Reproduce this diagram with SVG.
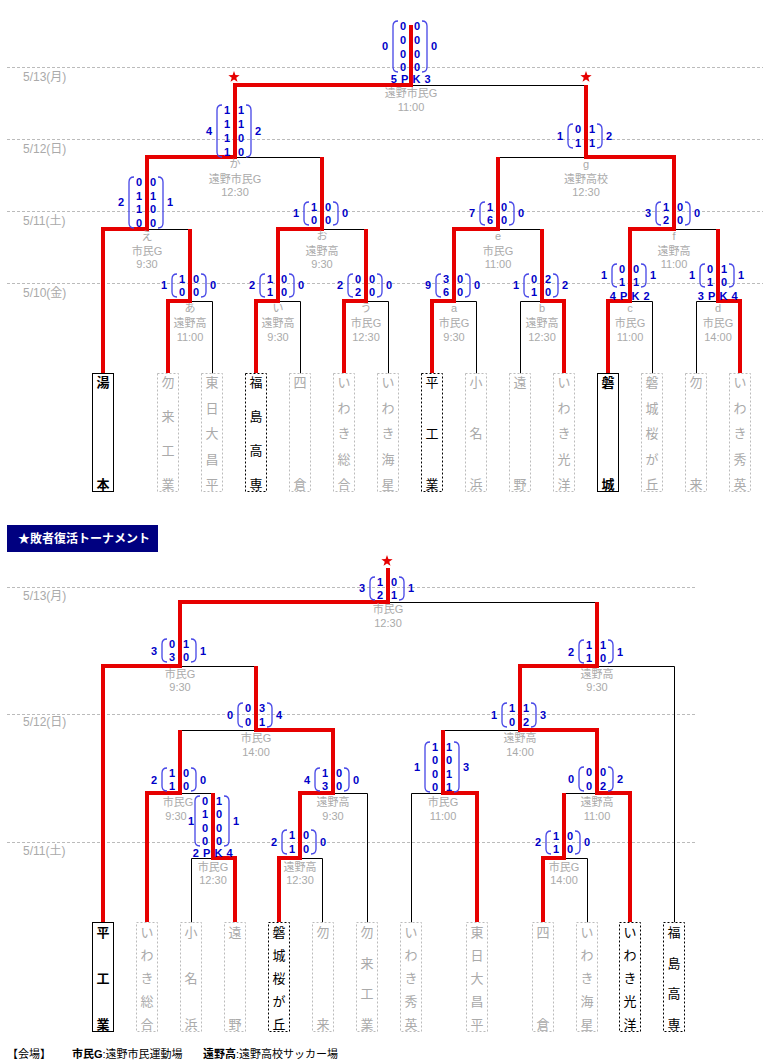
<svg xmlns="http://www.w3.org/2000/svg" xmlns:xlink="http://www.w3.org/1999/xlink" width="763" height="1061" viewBox="0 0 763 1061">
<style>
.dl{stroke:#bbb;stroke-width:1;stroke-dasharray:3 2}
.dt{font-family:"Liberation Sans","Noto Sans CJK JP",sans-serif;font-size:12px;fill:#aaa}
.bl{stroke:#000;stroke-width:1;fill:none}
.rd{stroke:#e60000;stroke-width:4;fill:none;stroke-linejoin:miter}
.sc{font-family:"Liberation Sans",sans-serif;font-weight:bold;font-size:11px;fill:#0000c8;text-anchor:middle}
.pk{letter-spacing:0.6px}
.pr{stroke:#4646e6;stroke-width:1.3;fill:none}
.lb{font-family:"Liberation Sans","Noto Sans CJK JP",sans-serif;font-size:11px;fill:#aaa;text-anchor:middle}
.tn{font-family:"Noto Sans CJK JP",sans-serif;font-size:13px;text-anchor:middle}
.win rect{fill:#fff;stroke:#000;stroke-width:1}
.win text{fill:#000;font-weight:bold}
.dot rect{fill:#fff;stroke:#000;stroke-width:1;stroke-dasharray:2 2}
.dot text{fill:#000}
.lose rect{fill:#fff;stroke:#bbb;stroke-width:1;stroke-dasharray:2 2}
.lose text{fill:#aaa}
.star{fill:#e60000}
</style>
<defs>
<path id="star" transform="scale(0.85)" d="M0,-7 L1.65,-2.27 L6.66,-2.16 L2.66,0.87 L4.11,5.66 L0,2.8 L-4.11,5.66 L-2.66,0.87 L-6.66,-2.16 L-1.65,-2.27 Z"/>
</defs>
<rect width="763" height="1061" fill="#fff"/>

<g id="date-lines">
<line class="dl" x1="7" y1="67.5" x2="763" y2="67.5"/>
<line class="dl" x1="7" y1="139.5" x2="763" y2="139.5"/>
<line class="dl" x1="7" y1="211.5" x2="763" y2="211.5"/>
<line class="dl" x1="7" y1="283.5" x2="763" y2="283.5"/>
<line class="dl" x1="7" y1="587.5" x2="695" y2="587.5"/>
<line class="dl" x1="7" y1="714.5" x2="695" y2="714.5"/>
<line class="dl" x1="7" y1="842.5" x2="695" y2="842.5"/>
<text class="dt" x="23" y="81">5/13(月)</text>
<text class="dt" x="23" y="153">5/12(日)</text>
<text class="dt" x="23" y="225">5/11(土)</text>
<text class="dt" x="23" y="297">5/10(金)</text>
<text class="dt" x="23" y="600">5/13(月)</text>
<text class="dt" x="23" y="726">5/12(日)</text>
<text class="dt" x="23" y="855">5/11(土)</text>
</g>

<g id="connectors">
<g transform="translate(0.5,0.5)">
<path class="bl" d="M212,373 V301 H190 M300,373 V301 H278 M388,373 V301 H366 M476,373 V301 H454 M520,373 V301 H542 M652,373 V301 H630 M696,373 V301 H718 M147,229 H190 M322,229 H366 M498,229 H542 M674,229 H718 M235,157 H322 M498,157 H586 M411,85 H586"/>
<path class="bl" d="M388,602 H597 M180,666 H256 M597,666 H674 V922 M180,730 H256 M443,730 H520 M180,793 H213 M333,793 H367 V922 M411,922 V793 H443 M564,793 H597 M191,922 V858 H213 M300,858 H322 V922 M564,858 H587 V922"/>
</g>
<path class="rd" d="M103,373 V229 H147 V157 H235 V85 H411 V25"/>
<path class="rd" d="M168,373 V301 H190 V229"/>
<path class="rd" d="M256,373 V301 H278 V229 H322 V157"/>
<path class="rd" d="M344,373 V301 H366 V229"/>
<path class="rd" d="M432,373 V301 H454 V229 H498 V157"/>
<path class="rd" d="M564,373 V301 H542 V229"/>
<path class="rd" d="M608,373 V301 H630 V229 H674 V157 H586 V85"/>
<path class="rd" d="M740,373 V301 H718 V229"/>
<path class="rd" d="M103,922 V666 H180 V602 H388 V568"/>
<path class="rd" d="M147,922 V793 H180 V730"/>
<path class="rd" d="M235,922 V858 H213 V793"/>
<path class="rd" d="M279,922 V858 H300 V793 H333 V730 H256 V666"/>
<path class="rd" d="M477,922 V793 H443 V730"/>
<path class="rd" d="M543,922 V858 H564 V793"/>
<path class="rd" d="M630,922 V793 H597 V730 H520 V666 H597 V602"/>
</g>

<g id="stars">
<use xlink:href="#star" href="#star" class="star" x="234" y="77"/>
<use xlink:href="#star" href="#star" class="star" x="586" y="77"/>
<use xlink:href="#star" href="#star" class="star" x="387" y="561"/>
</g>

<!-- top matches -->
<g id="m-final" transform="translate(411,0)">
<text class="sc" x="-26" y="50">0</text><text class="sc" x="23" y="50">0</text>
<path class="pr" d="M-13,21 Q-18,21 -18,26 V67 Q-18,72 -13,72"/><path class="pr" d="M11,21 Q16,21 16,26 V67 Q16,72 11,72"/>
<text class="sc"><tspan x="-8" y="30">0</tspan><tspan x="-8" y="44">0</tspan><tspan x="-8" y="57.5">0</tspan><tspan x="-8" y="71">0</tspan><tspan x="6" y="30">0</tspan><tspan x="6" y="44">0</tspan><tspan x="6" y="57.5">0</tspan><tspan x="6" y="71">0</tspan></text>
<text class="sc pk" x="0" y="83">5 P K 3</text>
<text class="lb" x="0" y="97">遠野市民G</text><text class="lb" x="0" y="111">11:00</text>
</g>
<g id="m-ka" transform="translate(235,0)">
<text class="sc" x="-26" y="135">4</text><text class="sc" x="23" y="135">2</text>
<path class="pr" d="M-13,105 Q-18,105 -18,110 V152 Q-18,157 -13,157"/><path class="pr" d="M11,105 Q16,105 16,110 V152 Q16,157 11,157"/>
<text class="sc"><tspan x="-8" y="114">1</tspan><tspan x="-8" y="128">1</tspan><tspan x="-8" y="142">1</tspan><tspan x="-8" y="156">1</tspan><tspan x="6" y="114">1</tspan><tspan x="6" y="128">1</tspan><tspan x="6" y="142">0</tspan><tspan x="6" y="156">0</tspan></text>
<text class="lb" x="0" y="168">か</text><text class="lb" x="0" y="183">遠野市民G</text><text class="lb" x="0" y="196">12:30</text>
</g>
<g id="m-g" transform="translate(586,0)">
<text class="sc" x="-26" y="140">1</text><text class="sc" x="23" y="140">2</text>
<path class="pr" d="M-13,124 Q-18,124 -18,129 V143 Q-18,148 -13,148"/><path class="pr" d="M11,124 Q16,124 16,129 V143 Q16,148 11,148"/>
<text class="sc"><tspan x="-8" y="133">0</tspan><tspan x="-8" y="147">1</tspan><tspan x="6" y="133">1</tspan><tspan x="6" y="147">1</tspan></text>
<text class="lb" x="0" y="168">g</text><text class="lb" x="0" y="183">遠野高校</text><text class="lb" x="0" y="196">12:30</text>
</g>
<g id="m-e-jp" transform="translate(147,0)">
<text class="sc" x="-26" y="206">2</text><text class="sc" x="23" y="206">1</text>
<path class="pr" d="M-13,177 Q-18,177 -18,182 V223 Q-18,228 -13,228"/><path class="pr" d="M11,177 Q16,177 16,182 V223 Q16,228 11,228"/>
<text class="sc"><tspan x="-8" y="186">0</tspan><tspan x="-8" y="200">1</tspan><tspan x="-8" y="213">1</tspan><tspan x="-8" y="227">0</tspan><tspan x="6" y="186">0</tspan><tspan x="6" y="200">1</tspan><tspan x="6" y="213">0</tspan><tspan x="6" y="227">0</tspan></text>
<text class="lb" x="0" y="240">え</text><text class="lb" x="0" y="255">市民G</text><text class="lb" x="0" y="268">9:30</text>
</g>
<g id="m-o" transform="translate(322,0)">
<text class="sc" x="-26" y="217">1</text><text class="sc" x="23" y="217">0</text>
<path class="pr" d="M-13,202 Q-18,202 -18,207 V220 Q-18,225 -13,225"/><path class="pr" d="M11,202 Q16,202 16,207 V220 Q16,225 11,225"/>
<text class="sc"><tspan x="-8" y="211">1</tspan><tspan x="-8" y="224">0</tspan><tspan x="6" y="211">0</tspan><tspan x="6" y="224">0</tspan></text>
<text class="lb" x="0" y="240">お</text><text class="lb" x="0" y="255">遠野高</text><text class="lb" x="0" y="268">9:30</text>
</g>
<g id="m-e" transform="translate(498,0)">
<text class="sc" x="-26" y="217">7</text><text class="sc" x="23" y="217">0</text>
<path class="pr" d="M-13,202 Q-18,202 -18,207 V220 Q-18,225 -13,225"/><path class="pr" d="M11,202 Q16,202 16,207 V220 Q16,225 11,225"/>
<text class="sc"><tspan x="-8" y="211">1</tspan><tspan x="-8" y="224">6</tspan><tspan x="6" y="211">0</tspan><tspan x="6" y="224">0</tspan></text>
<text class="lb" x="0" y="240">e</text><text class="lb" x="0" y="255">市民G</text><text class="lb" x="0" y="268">11:00</text>
</g>
<g id="m-f" transform="translate(674,0)">
<text class="sc" x="-26" y="217">3</text><text class="sc" x="23" y="217">0</text>
<path class="pr" d="M-13,202 Q-18,202 -18,207 V220 Q-18,225 -13,225"/><path class="pr" d="M11,202 Q16,202 16,207 V220 Q16,225 11,225"/>
<text class="sc"><tspan x="-8" y="211">1</tspan><tspan x="-8" y="224">2</tspan><tspan x="6" y="211">0</tspan><tspan x="6" y="224">0</tspan></text>
<text class="lb" x="0" y="240">f</text><text class="lb" x="0" y="255">遠野高</text><text class="lb" x="0" y="268">11:00</text>
</g>
<g id="m-a-jp" transform="translate(190,0)">
<text class="sc" x="-26" y="289">1</text><text class="sc" x="23" y="289">0</text>
<path class="pr" d="M-13,274 Q-18,274 -18,279 V292 Q-18,297 -13,297"/><path class="pr" d="M11,274 Q16,274 16,279 V292 Q16,297 11,297"/>
<text class="sc"><tspan x="-8" y="283">1</tspan><tspan x="-8" y="296">0</tspan><tspan x="6" y="283">0</tspan><tspan x="6" y="296">0</tspan></text>
<text class="lb" x="0" y="312">あ</text><text class="lb" x="0" y="327">遠野高</text><text class="lb" x="0" y="341">11:00</text>
</g>
<g id="m-i" transform="translate(278,0)">
<text class="sc" x="-26" y="289">2</text><text class="sc" x="23" y="289">0</text>
<path class="pr" d="M-13,274 Q-18,274 -18,279 V292 Q-18,297 -13,297"/><path class="pr" d="M11,274 Q16,274 16,279 V292 Q16,297 11,297"/>
<text class="sc"><tspan x="-8" y="283">1</tspan><tspan x="-8" y="296">1</tspan><tspan x="6" y="283">0</tspan><tspan x="6" y="296">0</tspan></text>
<text class="lb" x="0" y="312">い</text><text class="lb" x="0" y="327">遠野高</text><text class="lb" x="0" y="341">9:30</text>
</g>
<g id="m-u" transform="translate(366,0)">
<text class="sc" x="-26" y="289">2</text><text class="sc" x="23" y="289">0</text>
<path class="pr" d="M-13,274 Q-18,274 -18,279 V292 Q-18,297 -13,297"/><path class="pr" d="M11,274 Q16,274 16,279 V292 Q16,297 11,297"/>
<text class="sc"><tspan x="-8" y="283">0</tspan><tspan x="-8" y="296">2</tspan><tspan x="6" y="283">0</tspan><tspan x="6" y="296">0</tspan></text>
<text class="lb" x="0" y="312">う</text><text class="lb" x="0" y="327">市民G</text><text class="lb" x="0" y="341">12:30</text>
</g>
<g id="m-a" transform="translate(454,0)">
<text class="sc" x="-26" y="289">9</text><text class="sc" x="23" y="289">0</text>
<path class="pr" d="M-13,274 Q-18,274 -18,279 V292 Q-18,297 -13,297"/><path class="pr" d="M11,274 Q16,274 16,279 V292 Q16,297 11,297"/>
<text class="sc"><tspan x="-8" y="283">3</tspan><tspan x="-8" y="296">6</tspan><tspan x="6" y="283">0</tspan><tspan x="6" y="296">0</tspan></text>
<text class="lb" x="0" y="312">a</text><text class="lb" x="0" y="327">市民G</text><text class="lb" x="0" y="341">9:30</text>
</g>
<g id="m-b" transform="translate(542,0)">
<text class="sc" x="-26" y="289">1</text><text class="sc" x="23" y="289">2</text>
<path class="pr" d="M-13,274 Q-18,274 -18,279 V292 Q-18,297 -13,297"/><path class="pr" d="M11,274 Q16,274 16,279 V292 Q16,297 11,297"/>
<text class="sc"><tspan x="-8" y="283">0</tspan><tspan x="-8" y="296">1</tspan><tspan x="6" y="283">2</tspan><tspan x="6" y="296">0</tspan></text>
<text class="lb" x="0" y="312">b</text><text class="lb" x="0" y="327">遠野高</text><text class="lb" x="0" y="341">12:30</text>
</g>
<g id="m-c" transform="translate(630,0)">
<text class="sc" x="-26" y="279">1</text><text class="sc" x="23" y="279">1</text>
<path class="pr" d="M-13,264 Q-18,264 -18,269 V282 Q-18,287 -13,287"/><path class="pr" d="M11,264 Q16,264 16,269 V282 Q16,287 11,287"/>
<text class="sc"><tspan x="-8" y="273">0</tspan><tspan x="-8" y="286">1</tspan><tspan x="6" y="273">0</tspan><tspan x="6" y="286">1</tspan></text>
<text class="sc pk" x="0" y="299.5">4 P K 2</text>
<text class="lb" x="0" y="312">c</text><text class="lb" x="0" y="327">市民G</text><text class="lb" x="0" y="341">11:00</text>
</g>
<g id="m-d" transform="translate(718,0)">
<text class="sc" x="-26" y="279">1</text><text class="sc" x="23" y="279">1</text>
<path class="pr" d="M-13,264 Q-18,264 -18,269 V282 Q-18,287 -13,287"/><path class="pr" d="M11,264 Q16,264 16,269 V282 Q16,287 11,287"/>
<text class="sc"><tspan x="-8" y="273">0</tspan><tspan x="-8" y="286">1</tspan><tspan x="6" y="273">1</tspan><tspan x="6" y="286">0</tspan></text>
<text class="sc pk" x="0" y="299.5">3 P K 4</text>
<text class="lb" x="0" y="312">d</text><text class="lb" x="0" y="327">市民G</text><text class="lb" x="0" y="341">14:00</text>
</g>

<!-- top teams -->
<g id="t-yumoto" class="win"><rect x="92.5" y="373.5" width="21" height="118"/><text class="tn"><tspan x="103" y="387">湯</tspan><tspan x="103" y="489">本</tspan></text></g>
<g id="t-nakoso-kogyo" class="lose"><rect x="157.5" y="373.5" width="21" height="118"/><text class="tn"><tspan x="168" y="387">勿</tspan><tspan x="168" y="421">来</tspan><tspan x="168" y="455">工</tspan><tspan x="168" y="489">業</tspan></text></g>
<g id="t-higashinichi" class="lose"><rect x="201.5" y="373.5" width="21" height="118"/><text class="tn"><tspan x="212" y="387">東</tspan><tspan x="212" y="412.5">日</tspan><tspan x="212" y="438">大</tspan><tspan x="212" y="463.5">昌</tspan><tspan x="212" y="489">平</tspan></text></g>
<g id="t-fukushima" class="dot"><rect x="245.5" y="373.5" width="21" height="118"/><text class="tn"><tspan x="256" y="387">福</tspan><tspan x="256" y="421">島</tspan><tspan x="256" y="455">高</tspan><tspan x="256" y="489">専</tspan></text></g>
<g id="t-yotsukura" class="lose"><rect x="289.5" y="373.5" width="21" height="118"/><text class="tn"><tspan x="300" y="387">四</tspan><tspan x="300" y="489">倉</tspan></text></g>
<g id="t-iwaki-sogo" class="lose"><rect x="333.5" y="373.5" width="21" height="118"/><text class="tn"><tspan x="344" y="387">い</tspan><tspan x="344" y="412.5">わ</tspan><tspan x="344" y="438">き</tspan><tspan x="344" y="463.5">総</tspan><tspan x="344" y="489">合</tspan></text></g>
<g id="t-iwaki-kaisei" class="lose"><rect x="377.5" y="373.5" width="21" height="118"/><text class="tn"><tspan x="388" y="387">い</tspan><tspan x="388" y="412.5">わ</tspan><tspan x="388" y="438">き</tspan><tspan x="388" y="463.5">海</tspan><tspan x="388" y="489">星</tspan></text></g>
<g id="t-taira" class="dot"><rect x="421.5" y="373.5" width="21" height="118"/><text class="tn"><tspan x="432" y="387">平</tspan><tspan x="432" y="438">工</tspan><tspan x="432" y="489">業</tspan></text></g>
<g id="t-onahama" class="lose"><rect x="465.5" y="373.5" width="21" height="118"/><text class="tn"><tspan x="476" y="387">小</tspan><tspan x="476" y="438">名</tspan><tspan x="476" y="489">浜</tspan></text></g>
<g id="t-tono" class="lose"><rect x="509.5" y="373.5" width="21" height="118"/><text class="tn"><tspan x="520" y="387">遠</tspan><tspan x="520" y="489">野</tspan></text></g>
<g id="t-iwaki-koyo" class="lose"><rect x="553.5" y="373.5" width="21" height="118"/><text class="tn"><tspan x="564" y="387">い</tspan><tspan x="564" y="412.5">わ</tspan><tspan x="564" y="438">き</tspan><tspan x="564" y="463.5">光</tspan><tspan x="564" y="489">洋</tspan></text></g>
<g id="t-iwaki" class="win"><rect x="597.5" y="373.5" width="21" height="118"/><text class="tn"><tspan x="608" y="387">磐</tspan><tspan x="608" y="489">城</tspan></text></g>
<g id="t-iwaki-sakura" class="lose"><rect x="641.5" y="373.5" width="21" height="118"/><text class="tn"><tspan x="652" y="387">磐</tspan><tspan x="652" y="412.5">城</tspan><tspan x="652" y="438">桜</tspan><tspan x="652" y="463.5">が</tspan><tspan x="652" y="489">丘</tspan></text></g>
<g id="t-nakoso" class="lose"><rect x="685.5" y="373.5" width="21" height="118"/><text class="tn"><tspan x="696" y="387">勿</tspan><tspan x="696" y="489">来</tspan></text></g>
<g id="t-iwaki-shuei" class="lose"><rect x="729.5" y="373.5" width="21" height="118"/><text class="tn"><tspan x="740" y="387">い</tspan><tspan x="740" y="412.5">わ</tspan><tspan x="740" y="438">き</tspan><tspan x="740" y="463.5">秀</tspan><tspan x="740" y="489">英</tspan></text></g>

<!-- header -->
<g id="header">
<rect x="7" y="525" width="151" height="27" fill="#000080"/>
<text x="18" y="543" font-family="'Noto Sans CJK JP',sans-serif" font-size="12" font-weight="bold" fill="#fff">★敗者復活トーナメント</text>
</g>

<!-- bottom matches -->
<g id="r-final" transform="translate(388,0)">
<text class="sc" x="-26" y="592">3</text><text class="sc" x="23" y="592">1</text>
<path class="pr" d="M-13,577 Q-18,577 -18,582 V595 Q-18,600 -13,600"/><path class="pr" d="M11,577 Q16,577 16,582 V595 Q16,600 11,600"/>
<text class="sc"><tspan x="-8" y="586">1</tspan><tspan x="-8" y="599">2</tspan><tspan x="6" y="586">0</tspan><tspan x="6" y="599">1</tspan></text>
<text class="lb" x="0" y="613">市民G</text><text class="lb" x="0" y="627">12:30</text>
</g>
<g id="r-semi-l" transform="translate(180,0)">
<text class="sc" x="-26" y="655">3</text><text class="sc" x="23" y="655">1</text>
<path class="pr" d="M-13,639 Q-18,639 -18,644 V657 Q-18,662 -13,662"/><path class="pr" d="M11,639 Q16,639 16,644 V657 Q16,662 11,662"/>
<text class="sc"><tspan x="-8" y="648">0</tspan><tspan x="-8" y="661">3</tspan><tspan x="6" y="648">1</tspan><tspan x="6" y="661">0</tspan></text>
<text class="lb" x="0" y="678">市民G</text><text class="lb" x="0" y="691">9:30</text>
</g>
<g id="r-semi-r" transform="translate(597,0)">
<text class="sc" x="-26" y="656">2</text><text class="sc" x="23" y="656">1</text>
<path class="pr" d="M-13,640 Q-18,640 -18,645 V658 Q-18,663 -13,663"/><path class="pr" d="M11,640 Q16,640 16,645 V658 Q16,663 11,663"/>
<text class="sc"><tspan x="-8" y="649">1</tspan><tspan x="-8" y="662">1</tspan><tspan x="6" y="649">1</tspan><tspan x="6" y="662">0</tspan></text>
<text class="lb" x="0" y="678">遠野高</text><text class="lb" x="0" y="691">9:30</text>
</g>
<g id="r-q-l" transform="translate(256,0)">
<text class="sc" x="-26" y="719">0</text><text class="sc" x="23" y="719">4</text>
<path class="pr" d="M-13,703 Q-18,703 -18,708 V722 Q-18,727 -13,727"/><path class="pr" d="M11,703 Q16,703 16,708 V722 Q16,727 11,727"/>
<text class="sc"><tspan x="-8" y="712">0</tspan><tspan x="-8" y="726">0</tspan><tspan x="6" y="712">3</tspan><tspan x="6" y="726">1</tspan></text>
<text class="lb" x="0" y="742">市民G</text><text class="lb" x="0" y="756">14:00</text>
</g>
<g id="r-q-r" transform="translate(520,0)">
<text class="sc" x="-26" y="719">1</text><text class="sc" x="23" y="719">3</text>
<path class="pr" d="M-13,703 Q-18,703 -18,708 V722 Q-18,727 -13,727"/><path class="pr" d="M11,703 Q16,703 16,708 V722 Q16,727 11,727"/>
<text class="sc"><tspan x="-8" y="712">1</tspan><tspan x="-8" y="726">0</tspan><tspan x="6" y="712">1</tspan><tspan x="6" y="726">2</tspan></text>
<text class="lb" x="0" y="742">遠野高</text><text class="lb" x="0" y="756">14:00</text>
</g>
<g id="r-ll" transform="translate(180,0)">
<text class="sc" x="-26" y="784">2</text><text class="sc" x="23" y="784">0</text>
<path class="pr" d="M-13,768 Q-18,768 -18,773 V786 Q-18,791 -13,791"/><path class="pr" d="M11,768 Q16,768 16,773 V786 Q16,791 11,791"/>
<text class="sc"><tspan x="-8" y="777">1</tspan><tspan x="-8" y="790">1</tspan><tspan x="6" y="777">0</tspan><tspan x="6" y="790">0</tspan></text>
<text class="lb" x="-2" y="806">市民G</text><text class="lb" x="-4" y="820">9:30</text>
</g>
<g id="r-lr" transform="translate(333,0)">
<text class="sc" x="-26" y="784">4</text><text class="sc" x="23" y="784">0</text>
<path class="pr" d="M-13,768 Q-18,768 -18,773 V786 Q-18,791 -13,791"/><path class="pr" d="M11,768 Q16,768 16,773 V786 Q16,791 11,791"/>
<text class="sc"><tspan x="-8" y="777">1</tspan><tspan x="-8" y="790">3</tspan><tspan x="6" y="777">0</tspan><tspan x="6" y="790">0</tspan></text>
<text class="lb" x="0" y="806">遠野高</text><text class="lb" x="0" y="820">9:30</text>
</g>
<g id="r-rl" transform="translate(443,0)">
<text class="sc" x="-26" y="771">1</text><text class="sc" x="23" y="771">3</text>
<path class="pr" d="M-13,742 Q-18,742 -18,747 V787 Q-18,792 -13,792"/><path class="pr" d="M11,742 Q16,742 16,747 V787 Q16,792 11,792"/>
<text class="sc"><tspan x="-8" y="751">1</tspan><tspan x="-8" y="764">0</tspan><tspan x="-8" y="778">0</tspan><tspan x="-8" y="791">0</tspan><tspan x="6" y="751">1</tspan><tspan x="6" y="764">0</tspan><tspan x="6" y="778">1</tspan><tspan x="6" y="791">1</tspan></text>
<text class="lb" x="0" y="806">市民G</text><text class="lb" x="0" y="820">11:00</text>
</g>
<g id="r-rr" transform="translate(597,0)">
<text class="sc" x="-26" y="783">0</text><text class="sc" x="23" y="783">2</text>
<path class="pr" d="M-13,767 Q-18,767 -18,772 V786 Q-18,791 -13,791"/><path class="pr" d="M11,767 Q16,767 16,772 V786 Q16,791 11,791"/>
<text class="sc"><tspan x="-8" y="776">0</tspan><tspan x="-8" y="790">0</tspan><tspan x="6" y="776">0</tspan><tspan x="6" y="790">2</tspan></text>
<text class="lb" x="0" y="806">遠野高</text><text class="lb" x="0" y="820">11:00</text>
</g>
<g id="r-lls" transform="translate(213,0)">
<text class="sc" x="-22" y="825">1</text><text class="sc" x="23" y="825">1</text>
<path class="pr" d="M-13,796 Q-18,796 -18,801 V841 Q-18,846 -13,846"/><path class="pr" d="M11,796 Q16,796 16,801 V841 Q16,846 11,846"/>
<text class="sc"><tspan x="-8" y="805">0</tspan><tspan x="-8" y="818">1</tspan><tspan x="-8" y="832">0</tspan><tspan x="-8" y="845">0</tspan><tspan x="6" y="805">1</tspan><tspan x="6" y="818">0</tspan><tspan x="6" y="832">0</tspan><tspan x="6" y="845">0</tspan></text>
<text class="sc pk" x="0" y="856.5">2 P K 4</text>
<text class="lb" x="0" y="871">市民G</text><text class="lb" x="0" y="884">12:30</text>
</g>
<g id="r-lrs" transform="translate(300,0)">
<text class="sc" x="-26" y="846">2</text><text class="sc" x="23" y="846">0</text>
<path class="pr" d="M-13,830 Q-18,830 -18,835 V849 Q-18,854 -13,854"/><path class="pr" d="M11,830 Q16,830 16,835 V849 Q16,854 11,854"/>
<text class="sc"><tspan x="-8" y="839">1</tspan><tspan x="-8" y="853">1</tspan><tspan x="6" y="839">0</tspan><tspan x="6" y="853">0</tspan></text>
<text class="lb" x="0" y="871">遠野高</text><text class="lb" x="0" y="884">12:30</text>
</g>
<g id="r-rrs" transform="translate(564,0)">
<text class="sc" x="-26" y="846">2</text><text class="sc" x="23" y="846">0</text>
<path class="pr" d="M-13,831 Q-18,831 -18,836 V849 Q-18,854 -13,854"/><path class="pr" d="M11,831 Q16,831 16,836 V849 Q16,854 11,854"/>
<text class="sc"><tspan x="-8" y="840">1</tspan><tspan x="-8" y="853">1</tspan><tspan x="6" y="840">0</tspan><tspan x="6" y="853">0</tspan></text>
<text class="lb" x="0" y="871">市民G</text><text class="lb" x="0" y="884">14:00</text>
</g>

<!-- bottom teams -->
<g id="b-taira" class="win"><rect x="92.5" y="922.5" width="21" height="109"/><text class="tn"><tspan x="103" y="937">平</tspan><tspan x="103" y="983">工</tspan><tspan x="103" y="1029">業</tspan></text></g>
<g id="b-iwaki-sogo" class="lose"><rect x="136.5" y="922.5" width="21" height="109"/><text class="tn"><tspan x="147" y="937">い</tspan><tspan x="147" y="960">わ</tspan><tspan x="147" y="983">き</tspan><tspan x="147" y="1006">総</tspan><tspan x="147" y="1029">合</tspan></text></g>
<g id="b-onahama" class="lose"><rect x="180.5" y="922.5" width="21" height="109"/><text class="tn"><tspan x="191" y="937">小</tspan><tspan x="191" y="983">名</tspan><tspan x="191" y="1029">浜</tspan></text></g>
<g id="b-tono" class="lose"><rect x="224.5" y="922.5" width="21" height="109"/><text class="tn"><tspan x="235" y="937">遠</tspan><tspan x="235" y="1029">野</tspan></text></g>
<g id="b-iwaki-sakura" class="dot"><rect x="268.5" y="922.5" width="21" height="109"/><text class="tn"><tspan x="279" y="937">磐</tspan><tspan x="279" y="960">城</tspan><tspan x="279" y="983">桜</tspan><tspan x="279" y="1006">が</tspan><tspan x="279" y="1029">丘</tspan></text></g>
<g id="b-nakoso" class="lose"><rect x="312.5" y="922.5" width="21" height="109"/><text class="tn"><tspan x="323" y="937">勿</tspan><tspan x="323" y="1029">来</tspan></text></g>
<g id="b-nakoso-kogyo" class="lose"><rect x="356.5" y="922.5" width="21" height="109"/><text class="tn"><tspan x="367" y="937">勿</tspan><tspan x="367" y="967.7">来</tspan><tspan x="367" y="998.3">工</tspan><tspan x="367" y="1029">業</tspan></text></g>
<g id="b-iwaki-shuei" class="lose"><rect x="400.5" y="922.5" width="21" height="109"/><text class="tn"><tspan x="411" y="937">い</tspan><tspan x="411" y="960">わ</tspan><tspan x="411" y="983">き</tspan><tspan x="411" y="1006">秀</tspan><tspan x="411" y="1029">英</tspan></text></g>
<g id="b-higashinichi" class="lose"><rect x="466.5" y="922.5" width="21" height="109"/><text class="tn"><tspan x="477" y="937">東</tspan><tspan x="477" y="960">日</tspan><tspan x="477" y="983">大</tspan><tspan x="477" y="1006">昌</tspan><tspan x="477" y="1029">平</tspan></text></g>
<g id="b-yotsukura" class="lose"><rect x="532.5" y="922.5" width="21" height="109"/><text class="tn"><tspan x="543" y="937">四</tspan><tspan x="543" y="1029">倉</tspan></text></g>
<g id="b-iwaki-kaisei" class="lose"><rect x="576.5" y="922.5" width="21" height="109"/><text class="tn"><tspan x="587" y="937">い</tspan><tspan x="587" y="960">わ</tspan><tspan x="587" y="983">き</tspan><tspan x="587" y="1006">海</tspan><tspan x="587" y="1029">星</tspan></text></g>
<g id="b-iwaki-koyo" class="dot"><rect x="619.5" y="922.5" width="21" height="109"/><text class="tn"><tspan x="630" y="937">い</tspan><tspan x="630" y="960">わ</tspan><tspan x="630" y="983">き</tspan><tspan x="630" y="1006">光</tspan><tspan x="630" y="1029">洋</tspan></text></g>
<g id="b-fukushima" class="dot"><rect x="663.5" y="922.5" width="21" height="109"/><text class="tn"><tspan x="674" y="937">福</tspan><tspan x="674" y="967.7">島</tspan><tspan x="674" y="998.3">高</tspan><tspan x="674" y="1029">専</tspan></text></g>

<g id="footer" font-family="'Liberation Sans','Noto Sans CJK JP',sans-serif" font-size="11" fill="#000">
<text x="7" y="1058">【会場】</text>
<text x="72" y="1058"><tspan font-weight="bold">市民G</tspan>:遠野市民運動場</text>
<text x="203" y="1058"><tspan font-weight="bold">遠野高</tspan>:遠野高校サッカー場</text>
</g>
</svg>
